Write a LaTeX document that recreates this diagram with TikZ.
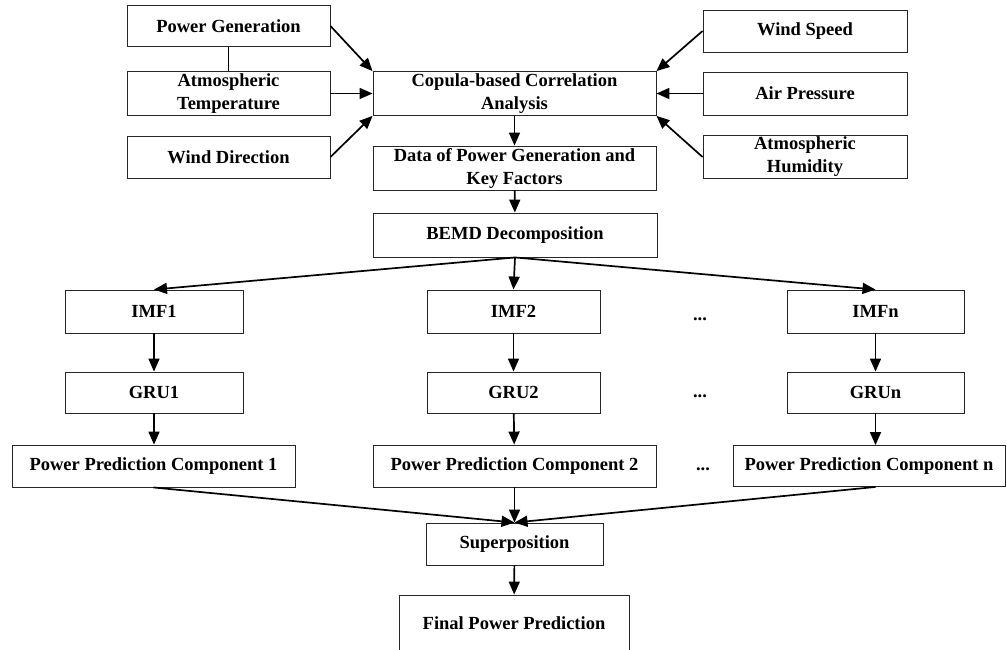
\documentclass[tikz,border=0pt]{standalone}
\usepackage{fontspec}
\setmainfont{Liberation Serif}
\usetikzlibrary{arrows.meta}

\begin{document}
\begin{tikzpicture}[x=1pt,y=-1pt,
    blk/.style={draw=black!85,line width=0.9pt,align=center,inner sep=2pt,
      font=\bfseries\fontsize{18.5}{23}\selectfont},
    arr/.style={-{Triangle[length=13pt,width=11pt]},line width=1.7pt},
    dots/.style={font=\bfseries\fontsize{18.5}{23}\selectfont}]
			\useasboundingbox (0,0) rectangle (1007,650);
			\node[blk,minimum width=203,minimum height=41] (pg) at (228.5,26) {Power Generation};
			\node[blk,minimum width=203,minimum height=43] (at) at (228.5,93.5) {Atmospheric\\Temperature};
			\node[blk,minimum width=203,minimum height=42] (wd) at (228.5,157) {Wind Direction};
			\node[blk,minimum width=283,minimum height=43] (cop) at (514.5,93.5) {Copula-based Correlation\\Analysis};
			\node[blk,minimum width=204,minimum height=42] (ws) at (805,31) {Wind Speed};
			\node[blk,minimum width=204,minimum height=43] (ap) at (805,93.5) {Air Pressure};
			\node[blk,minimum width=204,minimum height=42] (ah) at (805,157) {Atmospheric\\Humidity};
			\node[blk,minimum width=283,minimum height=42] (data) at (514.5,168) {Data of Power Generation and\\Key Factors};
			\node[blk,minimum width=284,minimum height=44] (bemd) at (515,235) {BEMD Decomposition};

			\node[blk,minimum width=178,minimum height=43] (imf1) at (154,311.5) {IMF1};
			\node[blk,minimum width=173,minimum height=43] (imf2) at (513.5,311.5) {IMF2};
			\node[blk,minimum width=177,minimum height=43] (imfn) at (875.5,311.5) {IMFn};
			\node[blk,minimum width=178,minimum height=41] (gru1) at (154,392.5) {GRU1};
			\node[blk,minimum width=173,minimum height=41] (gru2) at (513.5,392.5) {GRU2};
			\node[blk,minimum width=177,minimum height=41] (grun) at (875.5,392.5) {GRUn};
			\node[blk,minimum width=283,minimum height=42] (ppc1) at (153.5,466) {Power Prediction Component 1};
			\node[blk,minimum width=283,minimum height=42] (ppc2) at (514.5,466) {Power Prediction Component 2};
			\node[blk,minimum width=272,minimum height=41] (ppcn) at (869,466) {Power Prediction Component n};
			\node[dots] (dimf) at (700,319) {...};
			\node[dots] (dgru) at (700,396) {...};
			\node[dots] (dppc) at (703,469) {...};

			\node[blk,minimum width=177,minimum height=42] (sup) at (514.5,544) {Superposition};
			\node[blk,minimum width=230,minimum height=57] (fin) at (514,623.5) {Final Power Prediction};

			\draw[line width=0.9pt] (pg) -- (at);
			\draw[arr] (pg.east) -- (cop.north west);
			\draw[arr] (at) -- (cop);
			\draw[arr] (wd.east) -- (cop.south west);
			\draw[arr] (ws.west) -- (cop.north east);
			\draw[arr] (ap) -- (cop);
			\draw[arr] (ah.west) -- (cop.south east);
			\draw[arr] (cop) -- (data);
			\draw[arr] (data) -- (bemd);
			\draw[arr] (bemd.south) -- (imf1.north);
			\draw[arr] (bemd.south) -- (imf2.north);
			\draw[arr] (bemd.south) -- (imfn.north);
			\draw[arr] (imf1) -- (gru1);
			\draw[arr] (imf2) -- (gru2);
			\draw[arr] (imfn) -- (grun);
			\draw[arr] (gru1) -- (gru1 |- ppc1.north);
			\draw[arr] (gru2) -- (ppc2);
			\draw[arr] (grun) -- (grun |- ppcn.north);
			\draw[arr] (ppc1.south) -- (sup.north);
			\draw[arr] (ppc2.south) -- (sup.north);
			\draw[arr] (grun |- ppcn.south) -- (sup.north);
			\draw[arr] (sup) -- (fin);
		\end{tikzpicture}
\end{document}
